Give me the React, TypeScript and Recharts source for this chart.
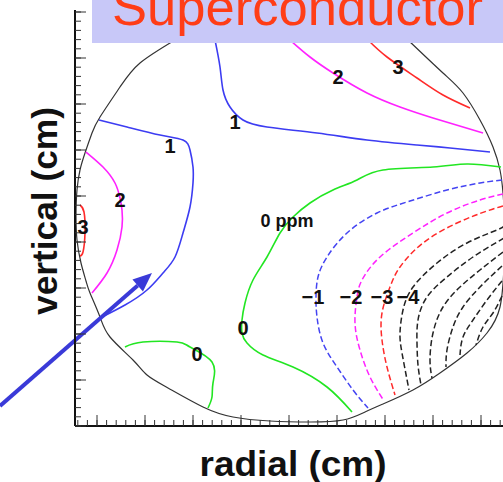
import { ComposedChart, Line, Scatter, XAxis, YAxis, ReferenceLine } from "recharts";

type Pt = { x: number; y: number };
const pts = (a: number[][]): Pt[] => a.map(([x, y]) => ({ x, y }));

// vessel outline
const vessel = pts([
  [100, 386], [65, 363], [45, 339], [25, 309], [17, 293], [10, 273], [5, 256], [2, 236],
  [1, 211], [2, 186], [6, 163], [11, 145], [15, 133], [25, 109], [35, 89], [58, 66],
  [72, 51], [93, 38], [128, 19], [158, 9], [195, 5], [235, 4], [268, 6], [290, 14],
  [308, 22], [338, 36], [365, 53], [392, 73], [412, 93], [425, 119], [429, 159],
  [430, 196], [428, 233], [425, 256], [418, 279], [405, 306], [388, 333], [368, 353],
  [333, 386],
]);

// positive contours (solid)
const plus1Top = pts([[140, 386], [145, 359], [148, 336], [155, 319], [168, 306], [192, 299], [242, 293], [292, 286], [342, 281], [375, 278], [415, 274]]);
const plus2Top = pts([[215, 386], [235, 369], [258, 353], [292, 333], [325, 319], [358, 308], [408, 293]]);
const plus3Top = pts([[293, 386], [312, 369], [342, 348], [368, 331], [395, 318]]);
const plus1Left = pts([[24, 306], [52, 299], [85, 291], [108, 286], [115, 276], [118, 259], [118, 243], [115, 219], [108, 193], [100, 169], [88, 153], [72, 136], [50, 121], [25, 108]]);
const plus2Left = pts([[11, 274], [28, 259], [40, 243], [45, 228], [47, 216], [47, 199], [42, 176], [32, 153], [17, 133]]);
const plus3Left = pts([[5, 221], [9, 214], [10, 193], [8, 174], [5, 170]]);

// zero contours
const zeroMain = pts([[426, 259], [392, 262], [358, 259], [308, 256], [282, 246], [258, 236], [235, 223], [218, 209], [205, 193], [192, 169], [178, 146], [170, 123], [167, 106], [167, 93], [172, 83], [188, 71], [218, 59], [252, 39], [277, 14]]);
const zeroSmall = pts([[50, 79], [68, 84], [102, 84], [115, 79], [137, 64], [138, 43], [137, 29], [133, 18]]);

// negative contours (dashed)
const minus1 = pts([[427, 246], [405, 243], [372, 236], [335, 225], [302, 213], [272, 193], [252, 169], [243, 149], [241, 129], [242, 109], [248, 83], [262, 59], [278, 36], [293, 18]]);
const minus2 = pts([[428, 232], [405, 226], [372, 213], [338, 193], [305, 169], [287, 146], [282, 129], [280, 103], [285, 76], [295, 49], [309, 25]]);
const minus3 = pts([[428, 220], [412, 215], [382, 203], [348, 183], [325, 159], [315, 139], [307, 113], [307, 86], [312, 59], [320, 31]]);
const minus4 = pts([[429, 200], [422, 196], [392, 183], [362, 163], [338, 139], [328, 116], [325, 93], [327, 73], [334, 36]]);
const minus5 = pts([[429, 188], [398, 169], [372, 149], [352, 129], [343, 106], [342, 83], [343, 61], [346, 41]]);
const minus6 = pts([[428, 174], [405, 156], [385, 139], [368, 119], [358, 93], [355, 66], [357, 48]]);
const minus7 = pts([[427, 160], [405, 139], [388, 119], [378, 99], [372, 76], [371, 59]]);
const minus8 = pts([[427, 145], [412, 126], [398, 106], [388, 89], [385, 71]]);
const minus9 = pts([[427, 130], [418, 113], [408, 99], [401, 81]]);

const contourLabels = [
  { x: 160, y: 304, text: "1" },
  { x: 263, y: 349, text: "2" },
  { x: 323, y: 359, text: "3" },
  { x: 95, y: 280, text: "1" },
  { x: 45, y: 226, text: "2" },
  { x: 8, y: 199, text: "3" },
  { x: 212, y: 205, text: "0 ppm" },
  { x: 168, y: 98, text: "0" },
  { x: 122, y: 72, text: "0" },
  { x: 238, y: 129, text: "\u22121" },
  { x: 276, y: 129, text: "\u22122" },
  { x: 307, y: 129, text: "\u22123" },
  { x: 333, y: 129, text: "\u22124" },
];

const arrowSegment = [{ x: -75, y: 20 }, { x: 77, y: 153 }];

const xMinor = Array.from({ length: 45 }, (_, i) => +(2.8 + 9.6 * i).toFixed(1));
const xMajor = [22, 70, 118, 166, 214, 262, 310, 358, 406];
const yMinor = Array.from({ length: 46 }, (_, i) => +(9.2 * i).toFixed(1));
const yMajor = [0, 46, 92, 138, 184, 230, 276, 322, 368, 414];

const solid = [
  { data: plus1Top, color: "#3c3cf2" },
  { data: plus2Top, color: "#ff22ff" },
  { data: plus3Top, color: "#ff2a2a" },
  { data: plus1Left, color: "#3c3cf2" },
  { data: plus2Left, color: "#ff22ff" },
  { data: plus3Left, color: "#ff2a2a" },
  { data: zeroMain, color: "#22e622" },
  { data: zeroSmall, color: "#22e622" },
];
const dashed = [
  { data: minus1, color: "#4444f2" },
  { data: minus2, color: "#ff22ff" },
  { data: minus3, color: "#ff2a2a" },
  { data: minus4, color: "#222" },
  { data: minus5, color: "#222" },
  { data: minus6, color: "#222" },
  { data: minus7, color: "#222" },
  { data: minus8, color: "#222" },
  { data: minus9, color: "#222" },
];

const FONT = "'Liberation Sans', Arial, sans-serif";

const NoTick = () => <g />;

const Arrow = (p: any) => {
  const { x1, y1, x2, y2 } = p;
  const a = Math.atan2(y2 - y1, x2 - x1);
  const len = 19;
  const w = 8;
  const bx = x2 - len * Math.cos(a);
  const by = y2 - len * Math.sin(a);
  const nx = -Math.sin(a) * w;
  const ny = Math.cos(a) * w;
  return (
    <g>
      <line x1={x1} y1={y1} x2={bx} y2={by} stroke="#3a3ad8" strokeWidth={4} />
      <polygon points={`${x2},${y2} ${bx + nx},${by + ny} ${bx - nx},${by - ny}`} fill="#3a3ad8" />
    </g>
  );
};

const LabelText = (p: any) => (
  <text
    x={p.cx}
    y={p.cy}
    textAnchor="middle"
    dominantBaseline="central"
    fontFamily={FONT}
    fontWeight="bold"
    fontSize={p.payload.text.length > 2 ? 18 : 20}
    fill="#111"
  >
    {p.payload.text}
  </text>
);

export default function App() {
  return (
    <div style={{ position: "fixed", left: 0, top: 0, width: 503, height: 482, background: "#fff" }}>
      <ComposedChart width={503} height={482} margin={{ top: 10, right: 0, bottom: 56, left: 75 }}>
        <XAxis
          type="number"
          dataKey="x"
          domain={[0, 428]}
          allowDataOverflow
          ticks={xMinor}
          interval={0}
          tick={NoTick}
          height={1}
          mirror
          tickSize={6}
          axisLine={{ stroke: "#111", strokeWidth: 2 }}
          tickLine={{ stroke: "#333" }}
        />
        <XAxis
          xAxisId="major"
          type="number"
          dataKey="x"
          domain={[0, 428]}
          allowDataOverflow
          ticks={xMajor}
          interval={0}
          tick={NoTick}
          height={1}
          mirror
          tickSize={10}
          axisLine={false}
          tickLine={{ stroke: "#333" }}
        />
        <YAxis
          type="number"
          dataKey="y"
          domain={[0, 416]}
          allowDataOverflow
          ticks={yMinor}
          interval={0}
          tick={NoTick}
          width={1}
          mirror
          tickSize={6}
          axisLine={{ stroke: "#111", strokeWidth: 2 }}
          tickLine={{ stroke: "#333" }}
        />
        <YAxis
          yAxisId="major"
          type="number"
          dataKey="y"
          domain={[0, 416]}
          allowDataOverflow
          ticks={yMajor}
          interval={0}
          tick={NoTick}
          width={1}
          mirror
          tickSize={10}
          axisLine={false}
          tickLine={{ stroke: "#333" }}
        />
        <Line
          data={vessel}
          dataKey="y"
          type="natural"
          stroke="#333"
          strokeWidth={1.2}
          dot={false}
          activeDot={false}
          isAnimationActive={false}
        />
        {solid.map((s, i) => (
          <Line
            key={"s" + i}
            data={s.data}
            dataKey="y"
            type="natural"
            stroke={s.color}
            strokeWidth={1.6}
            dot={false}
            activeDot={false}
            isAnimationActive={false}
          />
        ))}
        {dashed.map((s, i) => (
          <Line
            key={"d" + i}
            data={s.data}
            dataKey="y"
            type="natural"
            stroke={s.color}
            strokeWidth={1.5}
            strokeDasharray="6 3"
            dot={false}
            activeDot={false}
            isAnimationActive={false}
          />
        ))}
        <Scatter data={contourLabels} dataKey="y" shape={LabelText} isAnimationActive={false} />
        <ReferenceLine segment={arrowSegment} ifOverflow="visible" shape={Arrow} />
      </ComposedChart>
      <svg
        width={503}
        height={482}
        style={{ position: "absolute", left: 0, top: 0, pointerEvents: "none" }}
      >
        <rect x={92} y={0} width={411} height={43} fill="#c8c8f8" />
        <text x={112} y={25} fontFamily={FONT} fontSize={52} fill="#ff3d17" textLength={371} lengthAdjust="spacingAndGlyphs">
          Superconductor
        </text>
        <text
          transform="translate(57,211) rotate(-90)"
          textAnchor="middle"
          fontFamily={FONT}
          fontWeight="bold"
          fontSize={35}
          fill="#111"
          textLength={208}
          lengthAdjust="spacingAndGlyphs"
        >
          vertical (cm)
        </text>
        <text
          x={293}
          y={476}
          textAnchor="middle"
          fontFamily={FONT}
          fontWeight="bold"
          fontSize={35}
          fill="#111"
          textLength={187}
          lengthAdjust="spacingAndGlyphs"
        >
          radial (cm)
        </text>
      </svg>
    </div>
  );
}
